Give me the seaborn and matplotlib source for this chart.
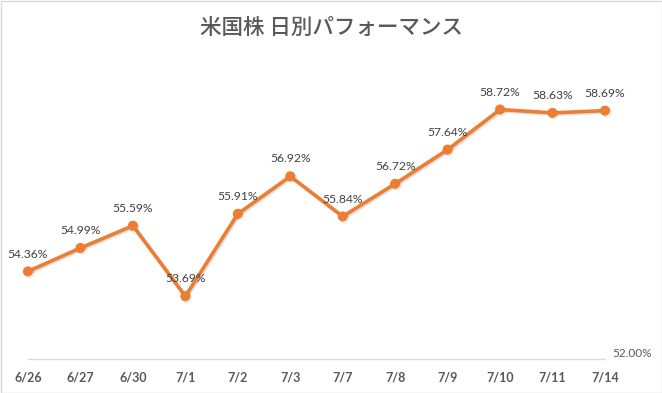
import matplotlib
matplotlib.use("Agg")
import matplotlib.pyplot as plt
import matplotlib.patheffects as pe
import seaborn as sns
import pandas as pd

dates = ["6/26", "6/27", "6/30", "7/1", "7/2", "7/3", "7/7", "7/8", "7/9", "7/10", "7/11", "7/14"]
values = [54.36, 54.99, 55.59, 53.69, 55.91, 56.92, 55.84, 56.72, 57.64, 58.72, 58.63, 58.69]
title = "米国株 日別パフォーマンス"
y_min, y_max = 52.0, 60.0

df = pd.DataFrame({"pos": range(len(dates)), "date": dates, "value": values})

sns.set_theme(style="white")
plt.rcParams["font.family"] = ["Lato", "DejaVu Sans"]

W, H = 662, 393
fig = plt.figure(figsize=(W / 100, H / 100), dpi=100)
ax = fig.add_axes([28 / W, (H - 359) / H, (605 - 28) / W, (359 - 62) / H])

orange = "#ED7D31"
sns.lineplot(data=df, x="pos", y="value", ax=ax, color=orange, linewidth=2.6,
             marker="o", markersize=6.5, markeredgecolor=orange, markerfacecolor=orange,
             path_effects=[pe.SimpleLineShadow(offset=(1.0, -1.0), shadow_color="gray", alpha=0.25), pe.Normal()],
             clip_on=False)

for x, v in zip(df["pos"], df["value"]):
    ax.annotate(f"{v:.2f}%", (x, v), xytext=(0, 12.5), textcoords="offset points",
                ha="center", va="center", fontsize=8.7, color="#404040")

ax.set_xlim(0, len(dates) - 1)
ax.set_ylim(y_min, y_max)
ax.set_xticks(list(df["pos"]))
ax.set_xticklabels(dates, fontsize=9, fontweight="bold", color="#595959")
ax.tick_params(axis="x", length=0, pad=9)
ax.set_yticks([])
ax.set_xlabel("")
ax.set_ylabel("")
for s in ax.spines.values():
    s.set_visible(False)
ax.axhline(y_min, color="#D9D9D9", linewidth=1, zorder=0, clip_on=False)
ax.text(1.012, y_min, f"{y_min:.2f}%", transform=ax.get_yaxis_transform(),
        ha="left", va="bottom", fontsize=8.5, color="#595959")

fig.text(0.5, (H - 28) / H, title, ha="center", va="center", fontsize=15.5, fontweight="medium",
         color="#595959", family=["Noto Sans CJK JP", "DejaVu Sans"])

fig.patches.append(plt.Rectangle((0.5 / W, 0.5 / H), 1 - 1 / W, 1 - 1 / H, transform=fig.transFigure,
                                 fill=False, edgecolor="#D9D9D9", linewidth=1))

fig.savefig("out.png", dpi=100)
